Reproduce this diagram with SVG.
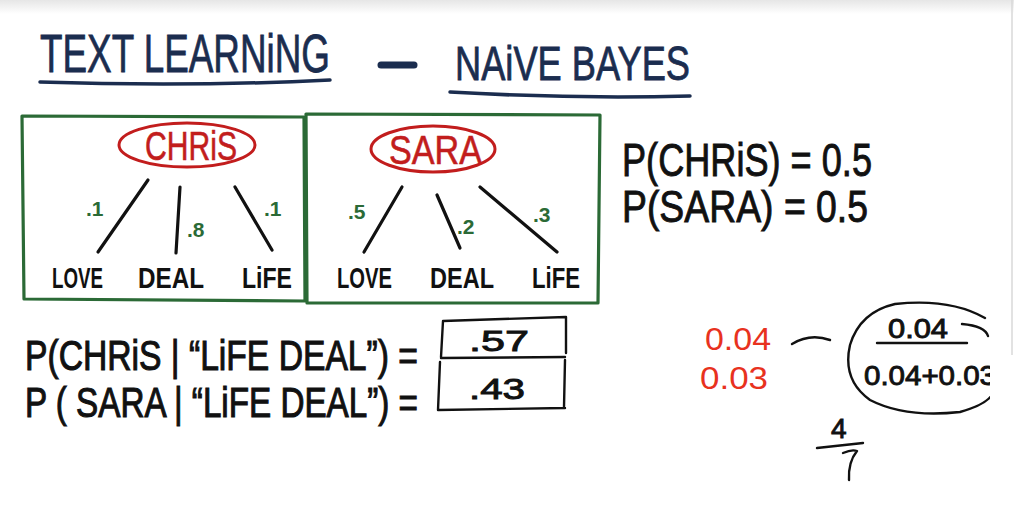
<svg xmlns="http://www.w3.org/2000/svg" width="1014" height="513" viewBox="0 0 1014 513">
  <defs>
    <linearGradient id="topfade" x1="0" y1="0" x2="0" y2="1">
      <stop offset="0" stop-color="#e6e6e6"/>
      <stop offset="1" stop-color="#ffffff"/>
    </linearGradient>
    <clipPath id="rightclip">
      <rect x="0" y="0" width="990" height="513"/>
    </clipPath>
  </defs>
  <style>
    .title { font-family: "Liberation Sans", "DejaVu Sans", sans-serif; fill: #1b2d4f; stroke: #1b2d4f; stroke-width: 0.8; }
    .ink { font-family: "Liberation Sans", "DejaVu Sans", sans-serif; fill: #111111; stroke: #111111; stroke-width: 0.9; }
    .word { font-family: "Liberation Sans", "DejaVu Sans", sans-serif; font-weight: bold; fill: #111111; font-size: 30px; }
    .redname { font-family: "Liberation Sans", "DejaVu Sans", sans-serif; fill: #c21d1d; stroke: #c21d1d; stroke-width: 0.6; font-size: 40px; }
    .prob { font-family: "Liberation Sans", "DejaVu Sans", sans-serif; font-weight: bold; fill: #2b6a36; font-size: 21px; }
    .rednum { font-family: "Liberation Sans", "DejaVu Sans", sans-serif; fill: #e8321e; font-size: 32px; }
    .navyline { fill: none; stroke: #1b2d4f; stroke-width: 3.5; stroke-linecap: round; }
    .box { fill: none; stroke: #2b6a36; stroke-width: 3.2; stroke-linejoin: round; }
    .oval { fill: none; stroke: #c21d1d; stroke-width: 3; }
    .edge { fill: none; stroke: #111111; stroke-width: 3.2; stroke-linecap: round; }
    .pen { fill: none; stroke: #111111; stroke-width: 2.4; stroke-linecap: round; stroke-linejoin: round; }
  </style>

  <rect x="0" y="0" width="1014" height="513" fill="#ffffff"/>
  <rect x="0" y="0" width="1014" height="14" fill="url(#topfade)"/>
  <line x1="1012" y1="0" x2="1012" y2="355" stroke="#d8d8d8" stroke-width="1.5"/>

  <g id="title">
    <text class="title" x="40" y="72" font-size="54" textLength="290" lengthAdjust="spacingAndGlyphs">TEXT LEARNiNG</text>
    <path class="navyline" d="M40,82 Q190,87 330,80"/>
    <line x1="381" y1="65" x2="414" y2="65" stroke="#1b2d4f" stroke-width="7" stroke-linecap="round"/>
    <text class="title" x="455" y="80" font-size="48" textLength="235" lengthAdjust="spacingAndGlyphs">NAiVE BAYES</text>
    <path class="navyline" d="M450,92 Q570,99 690,96"/>
  </g>

  <g id="chris-model">
    <path class="box" d="M22,116 L304,117 L305,301 L24,299 Z"/>
    <ellipse class="oval" cx="187" cy="145" rx="68" ry="22"/>
    <text class="redname" x="145" y="160" textLength="92" lengthAdjust="spacingAndGlyphs">CHRiS</text>
  </g>

  <g id="sara-model">
    <path class="box" d="M306,114 L600,115 L598,303 L307,303 Z"/>
    <ellipse class="oval" cx="433" cy="149" rx="62" ry="23"/>
    <text class="redname" x="389" y="164" textLength="93" lengthAdjust="spacingAndGlyphs">SARA</text>
  </g>

  <g id="connectors">
    <line class="edge" x1="148" y1="180" x2="98" y2="252"/>
    <line class="edge" x1="180" y1="187" x2="176" y2="253"/>
    <line class="edge" x1="235" y1="187" x2="272" y2="250"/>
    <line class="edge" x1="402" y1="187" x2="364" y2="252"/>
    <line class="edge" x1="437" y1="195" x2="460" y2="248"/>
    <line class="edge" x1="480" y1="187" x2="557" y2="252"/>
  </g>

  <g id="chris-words">
    <text class="prob" x="86" y="216">.1</text>
    <text class="prob" x="187" y="237">.8</text>
    <text class="prob" x="264" y="216">.1</text>
    <text class="word" x="52" y="288" textLength="51" lengthAdjust="spacingAndGlyphs">LOVE</text>
    <text class="word" x="138" y="288" textLength="66" lengthAdjust="spacingAndGlyphs">DEAL</text>
    <text class="word" x="242" y="288" textLength="50" lengthAdjust="spacingAndGlyphs">LiFE</text>
  </g>

  <g id="sara-words">
    <text class="prob" x="348" y="219">.5</text>
    <text class="prob" x="457" y="234">.2</text>
    <text class="prob" x="533" y="222" font-size="25">.3</text>
    <text class="word" x="337" y="288" textLength="55" lengthAdjust="spacingAndGlyphs">LOVE</text>
    <text class="word" x="430" y="288" textLength="64" lengthAdjust="spacingAndGlyphs">DEAL</text>
    <text class="word" x="532" y="288" textLength="48" lengthAdjust="spacingAndGlyphs">LiFE</text>
  </g>

  <g id="priors">
    <text class="ink" x="622" y="176" font-size="46" textLength="250" lengthAdjust="spacingAndGlyphs">P(CHRiS) = 0.5</text>
    <text class="ink" x="622" y="222" font-size="44" textLength="246" lengthAdjust="spacingAndGlyphs">P(SARA) = 0.5</text>
  </g>

  <g id="posteriors">
    <text class="ink" transform="translate(25 370) scale(1 1.2)" x="0" y="0" font-size="35" stroke-width="0.8" textLength="393" lengthAdjust="spacingAndGlyphs">P(CHRiS | “LiFE DEAL”) =</text>
    <text class="ink" transform="translate(25 417) scale(1 1.2)" x="0" y="0" font-size="35" stroke-width="0.8" textLength="393" lengthAdjust="spacingAndGlyphs">P ( SARA | “LiFE DEAL”) =</text>
    <path class="pen" d="M443,321 L566,317 M443,321 L441,357 M566,317 L566,353 M441,358 L565,357 M440,362 L438,410 M438,410 L565,408 M565,360 L564,407"/>
    <text class="ink" x="469" y="351" font-size="29" textLength="60" lengthAdjust="spacingAndGlyphs">.57</text>
    <text class="ink" x="469" y="399" font-size="29" textLength="56" lengthAdjust="spacingAndGlyphs">.43</text>
  </g>

  <g id="calculation" clip-path="url(#rightclip)">
    <text class="rednum" x="705" y="350" textLength="66" lengthAdjust="spacingAndGlyphs">0.04</text>
    <text class="rednum" x="700" y="389" textLength="68" lengthAdjust="spacingAndGlyphs">0.03</text>
    <path class="pen" d="M792,344 Q810,333 830,340"/>
    <path class="pen" d="M985,318 Q950,298 895,304 Q860,312 850,345 Q842,380 870,400 Q905,418 960,412 Q985,405 992,395"/>
    <path class="pen" d="M962,324 Q985,326 988,336"/>
    <text class="ink" x="888" y="338" font-size="27" stroke-width="0.4" textLength="60" lengthAdjust="spacingAndGlyphs">0.04</text>
    <line class="pen" x1="877" y1="343" x2="967" y2="343"/>
    <text class="ink" x="864" y="385" font-size="27" stroke-width="0.4" textLength="132" lengthAdjust="spacingAndGlyphs">0.04+0.03</text>
    <text class="ink" x="831" y="438" font-size="28" stroke-width="0.4">4</text>
    <path class="pen" d="M817,448 L863,443"/>
    <path class="pen" d="M843,453 Q852,449 857,451 Q848,462 849,480"/>
  </g>
</svg>
